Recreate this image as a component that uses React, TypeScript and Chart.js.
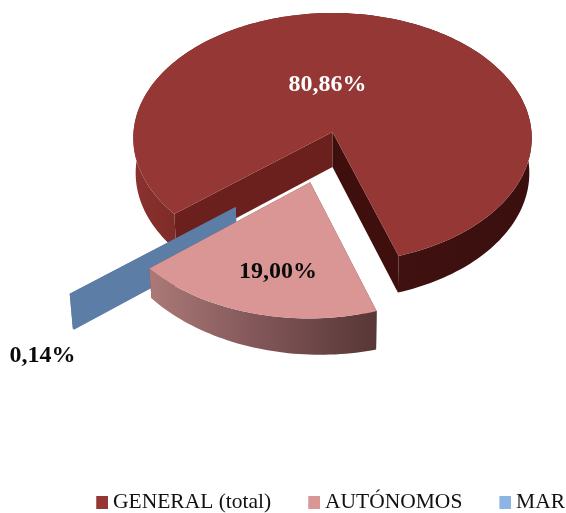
import React, { useEffect, useRef } from "react";
import { Chart, registerables } from "chart.js";

Chart.register(...registerables);

const categories = ["GENERAL (total)", "AUTÓNOMOS", "MAR"];
const shares = [80.86, 19.0, 0.14];
const topColors = ["#953735", "#D99694", "#8EB4E3"];

// 3D look
const FONT = "'Liberation Serif', serif";
const START_ANGLE = 230.4;
const PIE_X = 332.5;
const PIE_Y = 132;
const PIE_RADIUS = 199;
const FLATTEN = 0.6266;
const PERSPECTIVE = 0.048;
const SLICE_SHIFT = [
  [0, 0],
  [-0.11, 0.395],
  [-0.4726, 0.584],
];
const SLICE_DEPTH = [35, 34.5, 35];
const SLICE_TILT = [0, 0.2, 0.05];
const LABEL_SPOTS = [
  [327.5, 85, "#ffffff"],
  [278, 272, "#0a0a0a"],
  [42.5, 356, "#0a0a0a"],
];
const BLUE_WALL = "#5b7da6";

function swatch(color: string) {
  const c = document.createElement("canvas");
  c.width = 24;
  c.height = 13;
  const g = c.getContext("2d")!;
  g.fillStyle = color;
  g.fillRect(12, 0, 12, 13);
  return c;
}

function project(X: number, Y: number, low: boolean, i: number) {
  const w = 1 - PERSPECTIVE * Y;
  let x = PIE_X + (PIE_RADIUS * X) / w;
  let y = PIE_Y + (PIE_RADIUS * FLATTEN * Y) / w;
  if (low) {
    y += (SLICE_DEPTH[i] * (1 + SLICE_TILT[i] * X)) / w;
    x -= (x - PIE_X) * 0.012;
  }
  return [x, y];
}

function trace(ctx: CanvasRenderingContext2D, pts: number[][]) {
  ctx.beginPath();
  pts.forEach((p, n) => (n ? ctx.lineTo(p[0], p[1]) : ctx.moveTo(p[0], p[1])));
  ctx.closePath();
}

function xGradient(ctx: CanvasRenderingContext2D, x0: number, x1: number, stops: [number, string][]) {
  const g = ctx.createLinearGradient(x0, 0, x1, 0);
  stops.forEach(([o, c]) => g.addColorStop(o, c));
  return g;
}

const pie3d = {
  id: "pie3d",
  beforeDatasetsDraw(chart: any) {
    const ctx: CanvasRenderingContext2D = chart.ctx;
    const arcs = chart.getDatasetMeta(0).data;
    const sideFill: any[] = [
      xGradient(ctx, 133, 530, [
        [0, "#8a322f"],
        [0.25, "#6f2220"],
        [0.62, "#401211"],
        [1, "#3a0f0e"],
      ]),
      xGradient(ctx, 149, 378, [
        [0, "#ab7a78"],
        [0.45, "#84585a"],
        [1, "#573636"],
      ]),
      BLUE_WALL,
    ];
    const edgeFill: any[][] = [
      ["#3f0f0e", "#6c201e"],
      ["#6e4444", "#6e4444"],
      [BLUE_WALL, BLUE_WALL],
    ];
    [0, 2, 1].forEach((i) => {
      const arc = arcs[i];
      const [ox, oy] = SLICE_SHIFT[i];
      const { startAngle, endAngle } = arc;
      const steps = Math.max(2, Math.ceil((endAngle - startAngle) * 40));
      const rim: number[][] = [];
      for (let n = 0; n <= steps; n++) {
        const a = startAngle + ((endAngle - startAngle) * n) / steps;
        rim.push([ox + Math.cos(a), oy + Math.sin(a)]);
      }
      const top = rim.map((p) => project(p[0], p[1], false, i));
      const low = rim.map((p) => project(p[0], p[1], true, i));
      const hubTop = project(ox, oy, false, i);
      const hubLow = project(ox, oy, true, i);

      // flat walls
      ctx.fillStyle = edgeFill[i][1];
      trace(ctx, [hubTop, top[0], low[0], hubLow]);
      ctx.fill();
      ctx.fillStyle = edgeFill[i][0];
      trace(ctx, [hubTop, top[steps], low[steps], hubLow]);
      ctx.fill();
      // curved wall
      ctx.fillStyle = sideFill[i];
      trace(ctx, [...top, ...low.slice().reverse()]);
      ctx.fill();
      // top face (the sliver is too thin to show its own colour in the reference)
      ctx.fillStyle = i === 2 ? BLUE_WALL : arc.options.backgroundColor;
      trace(ctx, [hubTop, ...top]);
      ctx.fill();
    });
    return false;
  },
  afterDraw(chart: any) {
    const ctx: CanvasRenderingContext2D = chart.ctx;
    ctx.save();
    ctx.font = `bold 24px ${FONT}`;
    ctx.textAlign = "center";
    ctx.textBaseline = "middle";
    shares.forEach((v, i) => {
      const [x, y, color] = LABEL_SPOTS[i];
      ctx.fillStyle = color as string;
      ctx.fillText(`${v.toFixed(2).replace(".", ",")}%`, x as number, y as number);
    });
    ctx.restore();
  },
};

export default function App() {
  const ref = useRef<HTMLCanvasElement>(null);
  useEffect(() => {
    const chart = new Chart(ref.current!, {
      type: "pie",
      data: {
        labels: categories,
        datasets: [{ data: shares, backgroundColor: topColors, borderWidth: 0 }],
      },
      options: {
        animation: false,
        responsive: false,
        rotation: START_ANGLE,
        radius: PIE_RADIUS,
        layout: { padding: { left: 59.25, right: -80, bottom: -10 } },
        plugins: {
          tooltip: { enabled: false },
          legend: {
            position: "bottom",
            align: "start",
            labels: {
              usePointStyle: true,
              pointStyleWidth: 12,
              boxHeight: 12,
              padding: 31,
              color: "#111111",
              font: { family: FONT, size: 21.5 },
              generateLabels: () =>
                categories.map((text, index) => ({
                  text,
                  index,
                  hidden: false,
                  lineWidth: 0,
                  fontColor: "#111111",
                  pointStyle: swatch(topColors[index]),
                })),
            },
          },
        },
      },
      plugins: [pie3d],
    } as any);
    return () => chart.destroy();
  }, []);
  return (
    <div style={{ position: "fixed", left: 0, top: 0, width: 566, height: 513, background: "#fff" }}>
      <canvas ref={ref} width={566} height={513} style={{ display: "block" }} />
    </div>
  );
}
